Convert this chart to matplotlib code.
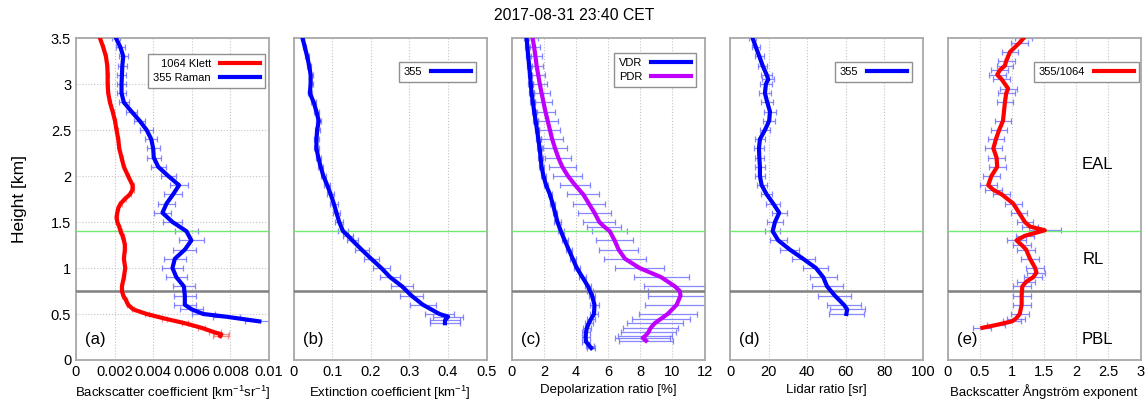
import matplotlib
matplotlib.use('Agg')
import matplotlib.pyplot as plt
from matplotlib.ticker import FuncFormatter

plt.rcParams['font.family'] = ['Liberation Sans', 'DejaVu Sans']
plt.rcParams['mathtext.fontset'] = 'custom'
plt.rcParams['mathtext.rm'] = 'Liberation Sans'
plt.rcParams['mathtext.it'] = 'Liberation Sans'

# (a) backscatter coefficient
h_bsc_355 = [3.5, 3.4, 3.3, 3.2, 3.1, 3.0, 2.9, 2.8, 2.7, 2.6, 2.5, 2.4, 2.3, 2.2, 2.1, 2.0, 1.9, 1.8,
             1.7, 1.6, 1.5, 1.4, 1.3, 1.2, 1.1, 1.0, 0.9, 0.8, 0.7, 0.6, 0.55, 0.5, 0.47, 0.42]
bsc_355 = [0.00207, 0.0023, 0.00245, 0.0024, 0.00238, 0.00236, 0.00236, 0.00248, 0.00288, 0.0033,
           0.00366, 0.0039, 0.004, 0.00403, 0.00426, 0.00478, 0.00534, 0.00503, 0.00469, 0.00448,
           0.005, 0.00572, 0.00598, 0.00564, 0.00512, 0.005, 0.0052, 0.00559, 0.00564, 0.00564,
           0.006, 0.0066, 0.0078, 0.0095]
bsc_355_err = [0.0002, 0.00022, 0.00023, 0.00023, 0.00023, 0.00023, 0.00024, 0.00026, 0.0003, 0.0003,
               0.00032, 0.00032, 0.00033, 0.00035, 0.00038, 0.0004, 0.00048, 0.00048, 0.00045, 0.00045,
               0.0005, 0.0006, 0.00065, 0.0006, 0.00058, 0.00055, 0.00055, 0.00058, 0.00058, 0.00058,
               0.0006, 0.0006, 0.0007, 0.00075]
h_bsc_1064 = [3.5, 3.4, 3.3, 3.2, 3.1, 3.0, 2.9, 2.8, 2.7, 2.6, 2.5, 2.4, 2.3, 2.2, 2.1, 2.0, 1.9, 1.85,
              1.8, 1.75, 1.7, 1.65, 1.6, 1.55, 1.5, 1.45, 1.4, 1.35, 1.3, 1.25, 1.2, 1.1, 1.0, 0.9,
              0.8, 0.75, 0.7, 0.65, 0.6, 0.55, 0.5, 0.45, 0.4, 0.35, 0.3, 0.28, 0.26]
bsc_1064 = [0.00124, 0.00141, 0.00155, 0.00162, 0.00164, 0.00164, 0.00167, 0.00176, 0.0019, 0.00202,
            0.0021, 0.00219, 0.00224, 0.00236, 0.00248, 0.0027, 0.00293, 0.00293, 0.00279, 0.00253,
            0.00231, 0.00219, 0.00214, 0.0021, 0.00214, 0.00224, 0.00231, 0.00241, 0.00248, 0.00253,
            0.00253, 0.00248, 0.00255, 0.00248, 0.00238, 0.00238, 0.00245, 0.00259, 0.0027, 0.00297,
            0.00366, 0.0046, 0.00564, 0.0065, 0.00719, 0.00753, 0.00748]
bsc_1064_err = [0.00006] * 40 + [0.0001, 0.00012, 0.00015, 0.0002, 0.0003, 0.0004, 0.0004]

# (b) extinction coefficient
h_ext = [3.5, 3.4, 3.3, 3.2, 3.1, 3.0, 2.9, 2.8, 2.7, 2.6, 2.5, 2.4, 2.3, 2.2, 2.1, 2.0, 1.9, 1.8, 1.7,
         1.6, 1.5, 1.4, 1.35, 1.3, 1.2, 1.1, 1.0, 0.9, 0.8, 0.7, 0.6, 0.5, 0.47, 0.43, 0.4]
ext_355 = [0.023, 0.029, 0.035, 0.040, 0.044, 0.044, 0.042, 0.052, 0.059, 0.065, 0.061, 0.059, 0.059,
           0.064, 0.070, 0.077, 0.087, 0.096, 0.104, 0.111, 0.118, 0.128, 0.141, 0.152, 0.176, 0.201,
           0.227, 0.250, 0.281, 0.305, 0.335, 0.378, 0.400, 0.392, 0.392]
ext_355_err = [0.004, 0.004, 0.005, 0.005, 0.005, 0.005, 0.005, 0.006, 0.006, 0.006, 0.006, 0.006,
               0.006, 0.006, 0.007, 0.007, 0.008, 0.009, 0.010, 0.010, 0.011, 0.012, 0.013, 0.015,
               0.018, 0.020, 0.022, 0.025, 0.028, 0.030, 0.033, 0.038, 0.040, 0.040, 0.040]

# (c) depolarization ratio
h_vdr = [3.5, 3.4, 3.3, 3.2, 3.1, 3.0, 2.9, 2.8, 2.7, 2.6, 2.5, 2.4, 2.3, 2.2, 2.1, 2.0, 1.9, 1.8, 1.7,
         1.6, 1.5, 1.4, 1.3, 1.2, 1.1, 1.0, 0.9, 0.8, 0.75, 0.7, 0.6, 0.5, 0.45, 0.4, 0.35, 0.3,
         0.25, 0.2, 0.15, 0.13]
vdr = [0.93, 0.98, 1.03, 1.09, 1.14, 1.19, 1.24, 1.32, 1.40, 1.49, 1.58, 1.66, 1.74, 1.8, 1.86, 1.98,
       2.14, 2.38, 2.55, 2.7, 2.85, 3.06, 3.3, 3.55, 3.8, 4.05, 4.4, 4.75, 4.87, 5.0, 5.15, 5.12, 4.95,
       4.8, 4.68, 4.62, 4.6, 4.62, 4.85, 4.95]
vdr_err = [0.15] * 20 + [0.2] * 10 + [0.25] * 10
h_pdr = [3.5, 3.4, 3.3, 3.2, 3.1, 3.0, 2.9, 2.8, 2.7, 2.6, 2.5, 2.4, 2.3, 2.2, 2.1, 2.0, 1.9, 1.8, 1.7,
         1.6, 1.5, 1.45, 1.4, 1.3, 1.2, 1.1, 1.0, 0.9, 0.8, 0.75, 0.7, 0.6, 0.5, 0.45, 0.4, 0.35, 0.3,
         0.26, 0.24, 0.21]
pdr = [1.3, 1.4, 1.48, 1.55, 1.65, 1.75, 1.86, 1.98, 2.1, 2.24, 2.38, 2.52, 2.7, 2.9, 3.15, 3.5, 3.95,
       4.45, 4.8, 5.15, 5.45, 5.75, 6.1, 6.4, 6.65, 7.05, 7.95, 9.3, 10.15, 10.45, 10.5, 10.26, 9.7, 9.3,
       8.9, 8.65, 8.5, 8.3, 8.15, 8.35]
pdr_err = [0.35, 0.37, 0.4, 0.42, 0.44, 0.45, 0.5, 0.55, 0.58, 0.62, 0.65, 0.7, 0.75, 0.8, 0.85, 0.9,
           0.95, 1.0, 1.0, 1.0, 1.0, 1.05, 1.1, 1.15, 1.2, 1.3, 1.5, 1.7, 1.9, 2.0, 2.0, 1.95, 1.8,
           1.8, 1.75, 1.7, 1.7, 1.7, 1.7, 1.7]

# (d) lidar ratio
h_lr = [3.5, 3.4, 3.3, 3.2, 3.1, 3.05, 3.0, 2.9, 2.8, 2.7, 2.6, 2.5, 2.4, 2.3, 2.2, 2.1, 2.0, 1.9, 1.8,
        1.7, 1.6, 1.5, 1.4, 1.3, 1.2, 1.1, 1.0, 0.9, 0.8, 0.7, 0.6, 0.55, 0.5]
lr_355 = [11.7, 13.4, 15.2, 16.9, 19.0, 19.8, 18.6, 18.1, 19.3, 20.7, 20.3, 18.1, 15.5, 15.0, 15.2,
          15.5, 15.5, 16.4, 19.0, 22.4, 25.5, 23.3, 22.1, 25.0, 31.0, 37.9, 44.5, 48.3, 50.3, 54.3,
          59.0, 60.7, 60.3]
lr_355_err = [1.7, 2.0, 2.2, 2.5, 2.8, 3.0, 3.0, 3.0, 3.0, 3.0, 3.0, 2.8, 2.6, 2.5, 2.5, 2.5, 2.5,
              2.6, 3.0, 3.5, 4.0, 4.0, 4.0, 4.5, 5.0, 6.0, 6.5, 7.0, 8.0, 8.5, 9.0, 9.0, 9.0]

# (e) backscatter Angstrom exponent
h_ae = [3.5, 3.45, 3.35, 3.25, 3.2, 3.15, 3.1, 3.05, 2.95, 2.9, 2.8, 2.6, 2.5, 2.4, 2.3, 2.2, 2.1, 2.0,
        1.9, 1.85, 1.8, 1.7, 1.6, 1.5, 1.45, 1.41, 1.35, 1.3, 1.25, 1.2, 1.1, 1.0, 0.95, 0.9, 0.85,
        0.8, 0.7, 0.6, 0.5, 0.45, 0.42, 0.38, 0.35]
ae_355_1064 = [1.18, 1.12, 0.97, 0.91, 0.89, 0.81, 0.77, 0.84, 0.94, 0.91, 0.89, 0.86, 0.80, 0.75, 0.71,
               0.76, 0.77, 0.68, 0.63, 0.71, 0.84, 1.02, 1.11, 1.2, 1.28, 1.51, 1.2, 1.07, 1.15, 1.22,
               1.28, 1.36, 1.38, 1.33, 1.22, 1.16, 1.15, 1.15, 1.12, 1.06, 1.0, 0.75, 0.54]
ae_err = [0.13] * 25 + [0.25] + [0.14] * 17

h_green = 1.4
h_gray = 0.75

fig = plt.figure(figsize=(11.48, 4.03), dpi=100)
lefts = [0.0662, 0.2558, 0.4457, 0.6359, 0.8255]
axes = [fig.add_axes([l, 0.1067, 0.1681, 0.799]) for l in lefts]

err_kw = dict(fmt='none', ecolor='#6a6aff', elinewidth=0.9, capsize=2.2, capthick=0.9, alpha=0.8, zorder=2)


def style(ax, xmax, xstep, xlabel, tag, hgrid=False):
    ax.set_ylim(0, 3.5)
    ax.set_xlim(0, xmax)
    n = int(round(xmax / xstep))
    ax.set_xticks([i * xstep for i in range(n + 1)])
    ax.set_yticks([i * 0.5 for i in range(8)])
    ax.xaxis.set_major_formatter(FuncFormatter(lambda v, p: '%g' % round(v, 6)))
    ax.yaxis.set_major_formatter(FuncFormatter(lambda v, p: '%g' % round(v, 6)))
    ax.tick_params(length=0, labelsize=10.5, pad=3.5)
    ax.grid(True, axis='both' if hgrid else 'x', linestyle=':', color='#c4c4c4', linewidth=0.8)
    for s in ax.spines.values():
        s.set_color('#a8a8a8')
        s.set_linewidth(1.3)
    ax.axhline(h_green, color='#70ea70', linewidth=1.0, zorder=3)
    ax.axhline(h_gray, color='#808080', linewidth=1.8, zorder=3)
    ax.set_xlabel(xlabel, fontsize=9.5, labelpad=3.5)
    ax.text(0.1, 0.065, tag, transform=ax.transAxes, fontsize=12, ha='center', va='center')


leg_kw = dict(markerfirst=False, fancybox=False, framealpha=1, edgecolor='#909090', fontsize=8,
              handlelength=3.6, loc='upper right', borderaxespad=0, labelspacing=0.35, borderpad=0.45)

ax = axes[0]
ax.errorbar(bsc_1064, h_bsc_1064, xerr=bsc_1064_err, **dict(err_kw, ecolor='#ff7070'))
ax.errorbar(bsc_355, h_bsc_355, xerr=bsc_355_err, **err_kw)
ax.plot(bsc_1064, h_bsc_1064, color='#ff0000', lw=3, label='1064 Klett', zorder=4)
ax.plot(bsc_355, h_bsc_355, color='#0000ff', lw=3, label='355 Raman', zorder=4)
style(ax, 0.01, 0.002, 'Backscatter coefficient [km$^{-1}$sr$^{-1}$]', '(a)', hgrid=True)
ax.legend(bbox_to_anchor=(0.979, 0.95), **leg_kw).get_frame().set_linewidth(1.0)

ax = axes[1]
ax.errorbar(ext_355, h_ext, xerr=ext_355_err, **err_kw)
ax.plot(ext_355, h_ext, color='#0000ff', lw=3, label='355', zorder=4)
style(ax, 0.5, 0.1, 'Extinction coefficient [km$^{-1}$]', '(b)')
ax.legend(bbox_to_anchor=(0.945, 0.925), **leg_kw).get_frame().set_linewidth(1.0)

ax = axes[2]
ax.errorbar(vdr, h_vdr, xerr=vdr_err, **err_kw)
ax.errorbar(pdr, h_pdr, xerr=pdr_err, **err_kw)
ax.plot(vdr, h_vdr, color='#0000ff', lw=3, label='VDR', zorder=4)
ax.plot(pdr, h_pdr, color='#c000ff', lw=3, label='PDR', zorder=4)
style(ax, 12, 2, 'Depolarization ratio [%]', '(c)')
ax.legend(bbox_to_anchor=(0.955, 0.953), **leg_kw).get_frame().set_linewidth(1.0)

ax = axes[3]
ax.errorbar(lr_355, h_lr, xerr=lr_355_err, **err_kw)
ax.plot(lr_355, h_lr, color='#0000ff', lw=3, label='355', zorder=4)
style(ax, 100, 20, 'Lidar ratio [sr]', '(d)')
ax.legend(bbox_to_anchor=(0.943, 0.925), **leg_kw).get_frame().set_linewidth(1.0)

ax = axes[4]
ax.errorbar(ae_355_1064, h_ae, xerr=ae_err, **err_kw)
ax.plot(ae_355_1064, h_ae, color='#ff0000', lw=3, label='355/1064', zorder=4)
style(ax, 3, 0.5, 'Backscatter Ångström exponent', '(e)')
ax.legend(bbox_to_anchor=(0.991, 0.925), **leg_kw).get_frame().set_linewidth(1.0)
ax.text(2.33, 2.13, 'EAL', fontsize=12, ha='center', va='center')
ax.text(2.26, 1.09, 'RL', fontsize=12, ha='center', va='center')
ax.text(2.33, 0.22, 'PBL', fontsize=12, ha='center', va='center')

for ax in axes[1:]:
    ax.tick_params(labelleft=False)

fig.text(20 / 1148, 1 - 199 / 403, 'Height [km]', rotation=90, fontsize=12.5, ha='center', va='center')
fig.text(0.5, 1 - 16 / 403, '2017-08-31 23:40 CET', fontsize=11.3, ha='center', va='center')

fig.savefig('out.png', dpi=100)
